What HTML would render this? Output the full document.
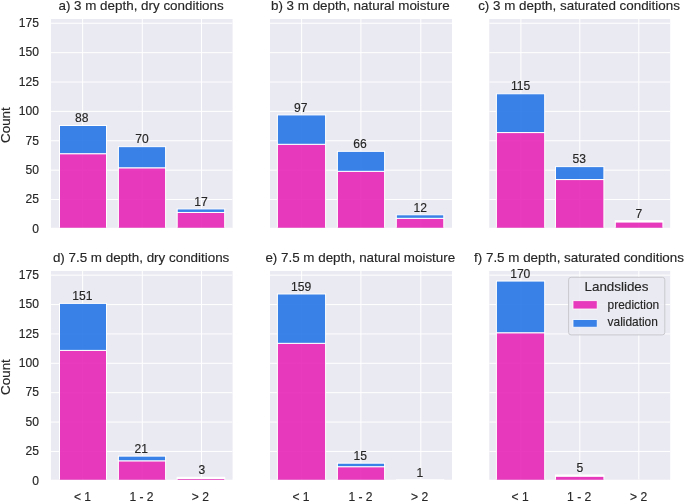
<!DOCTYPE html>
<html><head><meta charset="utf-8"><style>
html,body{margin:0;padding:0;background:#fff;width:685px;height:502px;overflow:hidden;}
svg{display:block;will-change:transform;filter:blur(0.4px);font-family:"Liberation Sans",sans-serif;}
text{fill:#262626;stroke:#262626;stroke-width:0.15px;}
</style></head><body>
<svg width="685" height="502" viewBox="0 0 685 502">
<defs>
<clipPath id="cp0"><rect x="50.95" y="19.0" width="181.65" height="208.80"/></clipPath>
<clipPath id="cp1"><rect x="270.0" y="19.0" width="182.00" height="208.80"/></clipPath>
<clipPath id="cp2"><rect x="489.2" y="19.0" width="181.00" height="208.80"/></clipPath>
<clipPath id="cp3"><rect x="50.95" y="270.95" width="181.65" height="208.80"/></clipPath>
<clipPath id="cp4"><rect x="270.0" y="270.95" width="182.00" height="208.80"/></clipPath>
<clipPath id="cp5"><rect x="489.2" y="270.95" width="181.00" height="208.80"/></clipPath>
</defs>
<rect x="50.95" y="19.0" width="181.65" height="208.80" fill="#eaeaf2"/>
<g clip-path="url(#cp0)">
<line x1="50.95" x2="232.6" y1="228.90" y2="228.90" stroke="#fff" stroke-width="1"/>
<line x1="50.95" x2="232.6" y1="199.53" y2="199.53" stroke="#fff" stroke-width="1"/>
<line x1="50.95" x2="232.6" y1="170.15" y2="170.15" stroke="#fff" stroke-width="1"/>
<line x1="50.95" x2="232.6" y1="140.78" y2="140.78" stroke="#fff" stroke-width="1"/>
<line x1="50.95" x2="232.6" y1="111.40" y2="111.40" stroke="#fff" stroke-width="1"/>
<line x1="50.95" x2="232.6" y1="82.03" y2="82.03" stroke="#fff" stroke-width="1"/>
<line x1="50.95" x2="232.6" y1="52.65" y2="52.65" stroke="#fff" stroke-width="1"/>
<line x1="50.95" x2="232.6" y1="23.28" y2="23.28" stroke="#fff" stroke-width="1"/>
<line x1="82.60" x2="82.60" y1="19.0" y2="227.8" stroke="#fff" stroke-width="1"/>
<line x1="142.30" x2="142.30" y1="19.0" y2="227.8" stroke="#fff" stroke-width="1"/>
<line x1="201.50" x2="201.50" y1="19.0" y2="227.8" stroke="#fff" stroke-width="1"/>
<rect x="59.50" y="153.70" width="47.00" height="77.20" fill="rgb(230,38,182)" fill-opacity="0.9" stroke="#fff" stroke-width="1"/>
<rect x="59.50" y="125.50" width="47.00" height="28.20" fill="rgb(38,116,229)" fill-opacity="0.9" stroke="#fff" stroke-width="1"/>
<rect x="118.40" y="167.80" width="47.20" height="63.10" fill="rgb(230,38,182)" fill-opacity="0.9" stroke="#fff" stroke-width="1"/>
<rect x="118.40" y="146.65" width="47.20" height="21.15" fill="rgb(38,116,229)" fill-opacity="0.9" stroke="#fff" stroke-width="1"/>
<rect x="177.20" y="212.45" width="47.50" height="18.45" fill="rgb(230,38,182)" fill-opacity="0.9" stroke="#fff" stroke-width="1"/>
<rect x="177.20" y="208.93" width="47.50" height="3.53" fill="rgb(38,116,229)" fill-opacity="0.9" stroke="#fff" stroke-width="1"/>
</g>
<text x="81.70" y="121.90" text-anchor="middle" font-size="12.1">88</text>
<text x="142.00" y="142.90" text-anchor="middle" font-size="12.1">70</text>
<text x="201.10" y="206.00" text-anchor="middle" font-size="12.1">17</text>
<text x="141.08" y="9.60" text-anchor="middle" font-size="13.4">a) 3 m depth, dry conditions</text>
<text x="38.9" y="232.70" text-anchor="end" font-size="12.1">0</text>
<text x="38.9" y="203.33" text-anchor="end" font-size="12.1">25</text>
<text x="38.9" y="173.95" text-anchor="end" font-size="12.1">50</text>
<text x="38.9" y="144.58" text-anchor="end" font-size="12.1">75</text>
<text x="38.9" y="115.20" text-anchor="end" font-size="12.1">100</text>
<text x="38.9" y="85.83" text-anchor="end" font-size="12.1">125</text>
<text x="38.9" y="56.45" text-anchor="end" font-size="12.1">150</text>
<text x="38.9" y="27.08" text-anchor="end" font-size="12.1">175</text>
<text transform="translate(10.3 125.10) rotate(-90)" text-anchor="middle" font-size="13.4">Count</text>
<rect x="270.0" y="19.0" width="182.00" height="208.80" fill="#eaeaf2"/>
<g clip-path="url(#cp1)">
<line x1="270.0" x2="452.0" y1="228.90" y2="228.90" stroke="#fff" stroke-width="1"/>
<line x1="270.0" x2="452.0" y1="199.53" y2="199.53" stroke="#fff" stroke-width="1"/>
<line x1="270.0" x2="452.0" y1="170.15" y2="170.15" stroke="#fff" stroke-width="1"/>
<line x1="270.0" x2="452.0" y1="140.78" y2="140.78" stroke="#fff" stroke-width="1"/>
<line x1="270.0" x2="452.0" y1="111.40" y2="111.40" stroke="#fff" stroke-width="1"/>
<line x1="270.0" x2="452.0" y1="82.03" y2="82.03" stroke="#fff" stroke-width="1"/>
<line x1="270.0" x2="452.0" y1="52.65" y2="52.65" stroke="#fff" stroke-width="1"/>
<line x1="270.0" x2="452.0" y1="23.28" y2="23.28" stroke="#fff" stroke-width="1"/>
<line x1="301.60" x2="301.60" y1="19.0" y2="227.8" stroke="#fff" stroke-width="1"/>
<line x1="360.90" x2="360.90" y1="19.0" y2="227.8" stroke="#fff" stroke-width="1"/>
<line x1="420.80" x2="420.80" y1="19.0" y2="227.8" stroke="#fff" stroke-width="1"/>
<rect x="277.40" y="144.30" width="48.20" height="86.60" fill="rgb(230,38,182)" fill-opacity="0.9" stroke="#fff" stroke-width="1"/>
<rect x="277.40" y="114.92" width="48.20" height="29.38" fill="rgb(38,116,229)" fill-opacity="0.9" stroke="#fff" stroke-width="1"/>
<rect x="337.40" y="171.32" width="47.20" height="59.58" fill="rgb(230,38,182)" fill-opacity="0.9" stroke="#fff" stroke-width="1"/>
<rect x="337.40" y="151.35" width="47.20" height="19.97" fill="rgb(38,116,229)" fill-opacity="0.9" stroke="#fff" stroke-width="1"/>
<rect x="396.30" y="218.33" width="47.50" height="12.57" fill="rgb(230,38,182)" fill-opacity="0.9" stroke="#fff" stroke-width="1"/>
<rect x="396.30" y="214.80" width="47.50" height="3.53" fill="rgb(38,116,229)" fill-opacity="0.9" stroke="#fff" stroke-width="1"/>
</g>
<text x="300.75" y="111.90" text-anchor="middle" font-size="12.1">97</text>
<text x="359.90" y="148.05" text-anchor="middle" font-size="12.1">66</text>
<text x="420.35" y="212.00" text-anchor="middle" font-size="12.1">12</text>
<text x="360.30" y="9.60" text-anchor="middle" font-size="13.4">b) 3 m depth, natural moisture</text>
<rect x="489.2" y="19.0" width="181.00" height="208.80" fill="#eaeaf2"/>
<g clip-path="url(#cp2)">
<line x1="489.2" x2="670.2" y1="228.90" y2="228.90" stroke="#fff" stroke-width="1"/>
<line x1="489.2" x2="670.2" y1="199.53" y2="199.53" stroke="#fff" stroke-width="1"/>
<line x1="489.2" x2="670.2" y1="170.15" y2="170.15" stroke="#fff" stroke-width="1"/>
<line x1="489.2" x2="670.2" y1="140.78" y2="140.78" stroke="#fff" stroke-width="1"/>
<line x1="489.2" x2="670.2" y1="111.40" y2="111.40" stroke="#fff" stroke-width="1"/>
<line x1="489.2" x2="670.2" y1="82.03" y2="82.03" stroke="#fff" stroke-width="1"/>
<line x1="489.2" x2="670.2" y1="52.65" y2="52.65" stroke="#fff" stroke-width="1"/>
<line x1="489.2" x2="670.2" y1="23.28" y2="23.28" stroke="#fff" stroke-width="1"/>
<line x1="520.90" x2="520.90" y1="19.0" y2="227.8" stroke="#fff" stroke-width="1"/>
<line x1="579.80" x2="579.80" y1="19.0" y2="227.8" stroke="#fff" stroke-width="1"/>
<line x1="638.80" x2="638.80" y1="19.0" y2="227.8" stroke="#fff" stroke-width="1"/>
<rect x="496.40" y="132.55" width="48.30" height="98.35" fill="rgb(230,38,182)" fill-opacity="0.9" stroke="#fff" stroke-width="1"/>
<rect x="496.40" y="93.78" width="48.30" height="38.78" fill="rgb(38,116,229)" fill-opacity="0.9" stroke="#fff" stroke-width="1"/>
<rect x="555.50" y="179.55" width="48.40" height="51.35" fill="rgb(230,38,182)" fill-opacity="0.9" stroke="#fff" stroke-width="1"/>
<rect x="555.50" y="166.62" width="48.40" height="12.93" fill="rgb(38,116,229)" fill-opacity="0.9" stroke="#fff" stroke-width="1"/>
<rect x="615.30" y="221.85" width="47.60" height="9.05" fill="rgb(230,38,182)" fill-opacity="0.9" stroke="#fff" stroke-width="1"/>
<rect x="614.80" y="220.18" width="48.60" height="2.17" fill="#fff"/>
</g>
<text x="520.60" y="90.00" text-anchor="middle" font-size="12.1">115</text>
<text x="579.20" y="163.05" text-anchor="middle" font-size="12.1">53</text>
<text x="638.90" y="217.96" text-anchor="middle" font-size="12.1">7</text>
<text x="579.00" y="9.60" text-anchor="middle" font-size="13.4">c) 3 m depth, saturated conditions</text>
<rect x="50.95" y="270.95" width="181.65" height="208.80" fill="#eaeaf2"/>
<g clip-path="url(#cp3)">
<line x1="50.95" x2="232.6" y1="480.80" y2="480.80" stroke="#fff" stroke-width="1"/>
<line x1="50.95" x2="232.6" y1="451.43" y2="451.43" stroke="#fff" stroke-width="1"/>
<line x1="50.95" x2="232.6" y1="422.05" y2="422.05" stroke="#fff" stroke-width="1"/>
<line x1="50.95" x2="232.6" y1="392.68" y2="392.68" stroke="#fff" stroke-width="1"/>
<line x1="50.95" x2="232.6" y1="363.30" y2="363.30" stroke="#fff" stroke-width="1"/>
<line x1="50.95" x2="232.6" y1="333.93" y2="333.93" stroke="#fff" stroke-width="1"/>
<line x1="50.95" x2="232.6" y1="304.55" y2="304.55" stroke="#fff" stroke-width="1"/>
<line x1="50.95" x2="232.6" y1="275.18" y2="275.18" stroke="#fff" stroke-width="1"/>
<line x1="82.60" x2="82.60" y1="270.95" y2="479.75" stroke="#fff" stroke-width="1"/>
<line x1="142.30" x2="142.30" y1="270.95" y2="479.75" stroke="#fff" stroke-width="1"/>
<line x1="201.50" x2="201.50" y1="270.95" y2="479.75" stroke="#fff" stroke-width="1"/>
<rect x="59.50" y="350.38" width="47.00" height="132.43" fill="rgb(230,38,182)" fill-opacity="0.9" stroke="#fff" stroke-width="1"/>
<rect x="59.50" y="303.38" width="47.00" height="47.00" fill="rgb(38,116,229)" fill-opacity="0.9" stroke="#fff" stroke-width="1"/>
<rect x="118.40" y="460.82" width="47.20" height="21.98" fill="rgb(230,38,182)" fill-opacity="0.9" stroke="#fff" stroke-width="1"/>
<rect x="118.40" y="456.12" width="47.20" height="4.70" fill="rgb(38,116,229)" fill-opacity="0.9" stroke="#fff" stroke-width="1"/>
<rect x="177.20" y="478.45" width="47.50" height="4.35" fill="rgb(230,38,182)" fill-opacity="0.9" stroke="#fff" stroke-width="1"/>
<rect x="176.70" y="476.78" width="48.50" height="2.17" fill="#fff"/>
</g>
<text x="82.40" y="299.70" text-anchor="middle" font-size="12.1">151</text>
<text x="141.20" y="453.00" text-anchor="middle" font-size="12.1">21</text>
<text x="201.90" y="474.00" text-anchor="middle" font-size="12.1">3</text>
<text x="141.08" y="261.55" text-anchor="middle" font-size="13.4">d) 7.5 m depth, dry conditions</text>
<text x="38.9" y="484.60" text-anchor="end" font-size="12.1">0</text>
<text x="38.9" y="455.23" text-anchor="end" font-size="12.1">25</text>
<text x="38.9" y="425.85" text-anchor="end" font-size="12.1">50</text>
<text x="38.9" y="396.48" text-anchor="end" font-size="12.1">75</text>
<text x="38.9" y="367.10" text-anchor="end" font-size="12.1">100</text>
<text x="38.9" y="337.73" text-anchor="end" font-size="12.1">125</text>
<text x="38.9" y="308.35" text-anchor="end" font-size="12.1">150</text>
<text x="38.9" y="278.98" text-anchor="end" font-size="12.1">175</text>
<text transform="translate(10.3 377.05) rotate(-90)" text-anchor="middle" font-size="13.4">Count</text>
<text x="82.50" y="500.8" text-anchor="middle" font-size="12.1">&lt; 1</text>
<text x="141.50" y="500.8" text-anchor="middle" font-size="12.1">1 - 2</text>
<text x="200.45" y="500.8" text-anchor="middle" font-size="12.1">&gt; 2</text>
<rect x="270.0" y="270.95" width="182.00" height="208.80" fill="#eaeaf2"/>
<g clip-path="url(#cp4)">
<line x1="270.0" x2="452.0" y1="480.80" y2="480.80" stroke="#fff" stroke-width="1"/>
<line x1="270.0" x2="452.0" y1="451.43" y2="451.43" stroke="#fff" stroke-width="1"/>
<line x1="270.0" x2="452.0" y1="422.05" y2="422.05" stroke="#fff" stroke-width="1"/>
<line x1="270.0" x2="452.0" y1="392.68" y2="392.68" stroke="#fff" stroke-width="1"/>
<line x1="270.0" x2="452.0" y1="363.30" y2="363.30" stroke="#fff" stroke-width="1"/>
<line x1="270.0" x2="452.0" y1="333.93" y2="333.93" stroke="#fff" stroke-width="1"/>
<line x1="270.0" x2="452.0" y1="304.55" y2="304.55" stroke="#fff" stroke-width="1"/>
<line x1="270.0" x2="452.0" y1="275.18" y2="275.18" stroke="#fff" stroke-width="1"/>
<line x1="301.60" x2="301.60" y1="270.95" y2="479.75" stroke="#fff" stroke-width="1"/>
<line x1="360.90" x2="360.90" y1="270.95" y2="479.75" stroke="#fff" stroke-width="1"/>
<line x1="420.80" x2="420.80" y1="270.95" y2="479.75" stroke="#fff" stroke-width="1"/>
<rect x="277.40" y="343.33" width="48.20" height="139.47" fill="rgb(230,38,182)" fill-opacity="0.9" stroke="#fff" stroke-width="1"/>
<rect x="277.40" y="293.98" width="48.20" height="49.35" fill="rgb(38,116,229)" fill-opacity="0.9" stroke="#fff" stroke-width="1"/>
<rect x="337.40" y="466.70" width="47.20" height="16.10" fill="rgb(230,38,182)" fill-opacity="0.9" stroke="#fff" stroke-width="1"/>
<rect x="337.40" y="463.18" width="47.20" height="3.52" fill="rgb(38,116,229)" fill-opacity="0.9" stroke="#fff" stroke-width="1"/>
<rect x="395.80" y="479.02" width="48.50" height="4" fill="#fff"/>
</g>
<text x="301.10" y="290.86" text-anchor="middle" font-size="12.1">159</text>
<text x="360.25" y="459.90" text-anchor="middle" font-size="12.1">15</text>
<text x="419.80" y="476.90" text-anchor="middle" font-size="12.1">1</text>
<text x="360.30" y="261.55" text-anchor="middle" font-size="13.4">e) 7.5 m depth, natural moisture</text>
<text x="301.00" y="500.8" text-anchor="middle" font-size="12.1">&lt; 1</text>
<text x="360.50" y="500.8" text-anchor="middle" font-size="12.1">1 - 2</text>
<text x="419.55" y="500.8" text-anchor="middle" font-size="12.1">&gt; 2</text>
<rect x="489.2" y="270.95" width="181.00" height="208.80" fill="#eaeaf2"/>
<g clip-path="url(#cp5)">
<line x1="489.2" x2="670.2" y1="480.80" y2="480.80" stroke="#fff" stroke-width="1"/>
<line x1="489.2" x2="670.2" y1="451.43" y2="451.43" stroke="#fff" stroke-width="1"/>
<line x1="489.2" x2="670.2" y1="422.05" y2="422.05" stroke="#fff" stroke-width="1"/>
<line x1="489.2" x2="670.2" y1="392.68" y2="392.68" stroke="#fff" stroke-width="1"/>
<line x1="489.2" x2="670.2" y1="363.30" y2="363.30" stroke="#fff" stroke-width="1"/>
<line x1="489.2" x2="670.2" y1="333.93" y2="333.93" stroke="#fff" stroke-width="1"/>
<line x1="489.2" x2="670.2" y1="304.55" y2="304.55" stroke="#fff" stroke-width="1"/>
<line x1="489.2" x2="670.2" y1="275.18" y2="275.18" stroke="#fff" stroke-width="1"/>
<line x1="520.90" x2="520.90" y1="270.95" y2="479.75" stroke="#fff" stroke-width="1"/>
<line x1="579.80" x2="579.80" y1="270.95" y2="479.75" stroke="#fff" stroke-width="1"/>
<line x1="638.80" x2="638.80" y1="270.95" y2="479.75" stroke="#fff" stroke-width="1"/>
<rect x="496.40" y="332.75" width="48.30" height="150.05" fill="rgb(230,38,182)" fill-opacity="0.9" stroke="#fff" stroke-width="1"/>
<rect x="496.40" y="281.05" width="48.30" height="51.70" fill="rgb(38,116,229)" fill-opacity="0.9" stroke="#fff" stroke-width="1"/>
<rect x="555.50" y="476.10" width="48.40" height="6.70" fill="rgb(230,38,182)" fill-opacity="0.9" stroke="#fff" stroke-width="1"/>
<rect x="555.00" y="474.43" width="49.40" height="2.18" fill="#fff"/>
</g>
<text x="520.25" y="277.80" text-anchor="middle" font-size="12.1">170</text>
<text x="579.95" y="472.10" text-anchor="middle" font-size="12.1">5</text>
<text x="579.00" y="261.55" text-anchor="middle" font-size="13.4">f) 7.5 m depth, saturated conditions</text>
<text x="520.05" y="500.8" text-anchor="middle" font-size="12.1">&lt; 1</text>
<text x="579.20" y="500.8" text-anchor="middle" font-size="12.1">1 - 2</text>
<text x="638.60" y="500.8" text-anchor="middle" font-size="12.1">&gt; 2</text>
<rect x="568.6" y="277.3" width="96.2" height="57.6" rx="2.5" ry="2.5" fill="#eaeaf2" fill-opacity="0.85" stroke="#c8c8ce" stroke-width="1"/>
<text x="616.5" y="290.6" text-anchor="middle" font-size="13.4">Landslides</text>
<rect x="573.0" y="300.7" width="24.2" height="8.3" fill="rgb(230,38,182)" fill-opacity="0.9" stroke="#fff" stroke-width="0.8"/>
<rect x="573.0" y="319.6" width="24.2" height="7.6" fill="rgb(38,116,229)" fill-opacity="0.9" stroke="#fff" stroke-width="0.8"/>
<text x="607.6" y="308.9" font-size="11.9">prediction</text>
<text x="607.6" y="326.4" font-size="11.9">validation</text>
</svg>
</body></html>
